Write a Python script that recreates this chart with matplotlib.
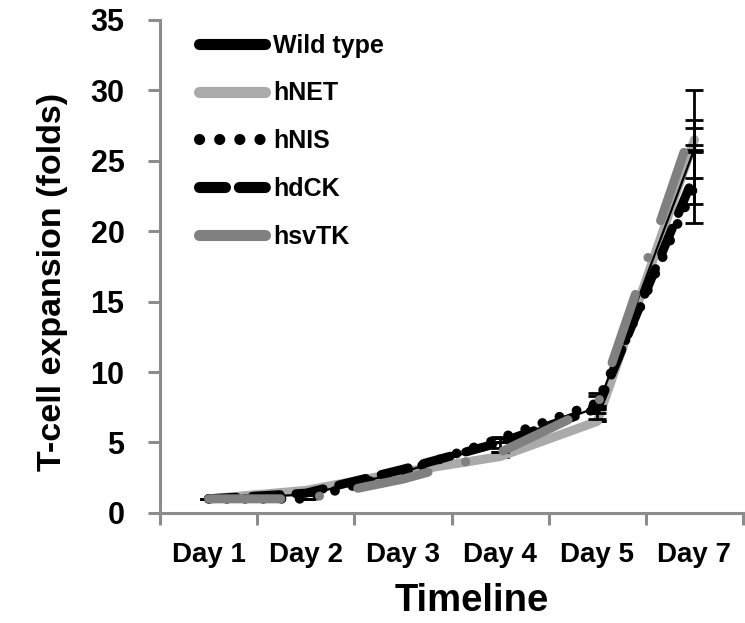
import matplotlib
matplotlib.use("Agg")
import matplotlib.pyplot as plt
from matplotlib.lines import Line2D

plt.rcParams['lines.scale_dashes'] = False
plt.rcParams['font.family'] = 'Liberation Sans'
plt.rcParams['font.weight'] = 'bold'

days = ["Day 1", "Day 2", "Day 3", "Day 4", "Day 5", "Day 7"]
wild_type = [1.0, 1.3, 2.9, 5.0, 7.5, 25.85]
hnet = [1.0, 1.6, 2.9, 4.0, 6.5, 26.5]
hnis = [1.0, 1.0, 2.9, 5.3, 7.8, 23.2]
hdck = [1.0, 1.4, 3.1, 5.0, 7.4, 24.0]
hsvtk = [1.0, 1.0, 2.4, 4.3, 7.6, 27.8]

wild_type_err = [0, 0, 0, 0.4, 0.8, 2.05]
hnet_err = [0, 0, 0, 0, 0, 0.8]
hnis_err = [0, 0, 0, 0, 0.7, 2.6]
hdck_err = [0, 0, 0, 0, 0, 2.1]
hsvtk_err = [0, 0, 0, 0, 0, 2.2]

x = list(range(len(days)))

fig = plt.figure(figsize=(7.45, 6.23), dpi=100)
ax = fig.add_axes([0.2148, 0.1767, 0.7826, 0.7913])

axis_grey = "#8c8c8c"
ebar = dict(ecolor="black", elinewidth=2, capsize=6.5, capthick=2)

# hNET - light grey solid
ax.errorbar(x, hnet, yerr=hnet_err, color="#aaaaaa", lw=6.5,
            solid_capstyle="round", solid_joinstyle="round", zorder=2, **ebar)
# wild type - thin black
ax.errorbar(x, wild_type, yerr=wild_type_err, color="black", lw=1.6,
            zorder=3, **ebar)
# hNIS - round dots
ax.errorbar(x, hnis, yerr=hnis_err, color="black", lw=7, linestyle=(0, (0.1, 13)),
            dash_capstyle="round", zorder=4, **ebar)
# hdCK - dashes
ax.errorbar(x, hdck, yerr=hdck_err, color="black", lw=6.5, linestyle=(0, (20, 11.5)),
            dash_capstyle="round", zorder=5, **ebar)
# hsvTK - long dash dot, grey
ax.errorbar(x, hsvtk, yerr=hsvtk_err, color="#808080", lw=6.5,
            linestyle=(0, (52, 28, 0.1, 28)), dash_capstyle="round", zorder=6, **ebar)

ax.set_ylim(0, 35)
ax.set_yticks(range(0, 36, 5))
ax.set_xlim(-0.5, len(days) - 0.5)
ax.set_xticks([i - 0.5 for i in range(len(days) + 1)])
ax.set_xticklabels([])
ax.set_xticks(x, minor=True)
ax.set_xticklabels(days, minor=True, fontsize=20, fontweight="bold")

for lab in ax.get_yticklabels():
    lab.set_fontweight("bold")
    lab.set_fontsize(22)

ax.spines["top"].set_visible(False)
ax.spines["right"].set_visible(False)
ax.spines["left"].set_color(axis_grey)
ax.spines["bottom"].set_color(axis_grey)
ax.spines["left"].set_linewidth(2.2)
ax.spines["bottom"].set_linewidth(2.2)
ax.tick_params(axis="y", which="major", length=8.6, width=2.2, color=axis_grey, pad=17)
ax.tick_params(axis="x", which="major", length=8.6, width=2.2, color=axis_grey)
ax.tick_params(axis="x", which="minor", length=0, pad=21)

ax.set_xlabel("Timeline", fontsize=27.5, fontweight="bold", va="center")
ax.xaxis.set_label_coords(0.535, -0.178)
ax.set_ylabel("T-cell expansion (folds)", fontsize=24.5, fontweight="bold", va="center")
ax.yaxis.set_label_coords(-0.185, 0.468)

handles = [
    Line2D([], [], color="black", lw=8, solid_capstyle="round"),
    Line2D([], [], color="#aaaaaa", lw=8, solid_capstyle="round"),
    Line2D([], [], color="black", lw=8, linestyle=(0, (0.1, 14.4)), dash_capstyle="round"),
    Line2D([], [], color="black", lw=8, linestyle=(0, (18.7, 10)), dash_capstyle="round"),
    Line2D([], [], color="#808080", lw=8, solid_capstyle="round"),
]
labels = ["Wild type", "hNET", "hNIS", "hdCK", "hsvTK"]
ax.legend(handles, labels, loc="upper left", bbox_to_anchor=(0.066, 0.972),
          frameon=False, handlelength=2.64, handletextpad=0.35, labelspacing=0.95,
          borderpad=0, borderaxespad=0,
          prop={"family": "Liberation Sans", "weight": "bold", "size": 18})

fig.savefig("out.png", dpi=100)
